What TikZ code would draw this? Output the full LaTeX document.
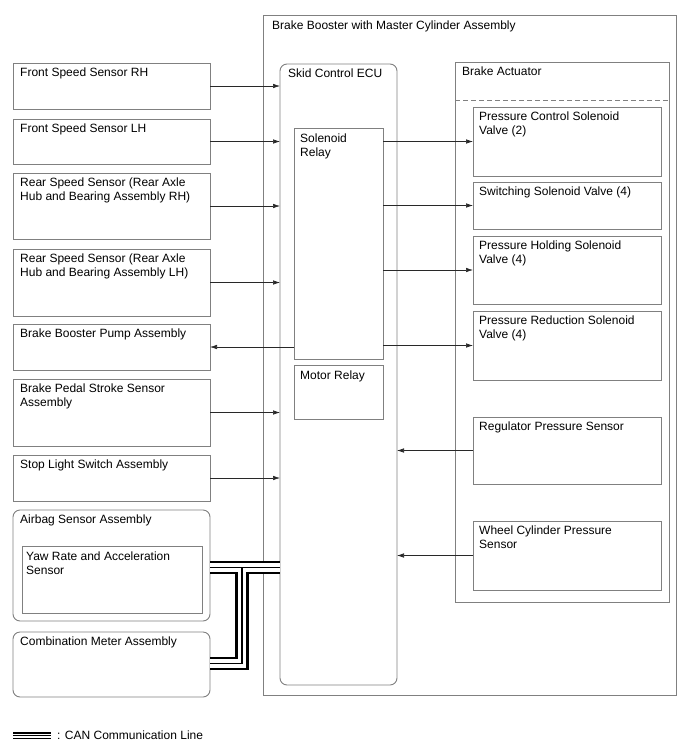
\documentclass[tikz,border=0pt]{standalone}
\usepackage{fontspec}
\setmainfont{Liberation Sans}
\usetikzlibrary{arrows.meta}
\definecolor{lc}{RGB}{128,128,128}
\definecolor{ac}{RGB}{40,40,40}
\begin{document}
\begin{tikzpicture}[x=1pt,y=-1pt,
  box/.style={draw=lc, line width=0.9pt, anchor=north west, inner sep=0pt, outer sep=0pt},
  rbox/.style={box, rounded corners=7pt},
  txt/.style={anchor=north west, inner sep=0pt, align=left, text=black, font=\fontsize{12}{14}\selectfont},
  arr/.style={draw=ac, line width=0.6pt, -{Latex[length=7pt,width=4.5pt]}},
  canA/.style={draw=black, line width=13.5pt},
  canB/.style={draw=white, line width=8.5pt},
  canC/.style={draw=black, line width=1.2pt},
  legA/.style={draw=black, line width=7.4pt},
  legB/.style={draw=white, line width=4pt},
  legC/.style={draw=black, line width=1pt}
]
\useasboundingbox[fill=white] (0,0) rectangle (688,755);

% outer assembly
\node[box, minimum width=413pt, minimum height=680pt] (outer) at (263,15) {};
\node[txt] (outer-t) at ([shift={(9,6)}]outer.north west) {Brake Booster with Master Cylinder Assembly};

% ECU
\node[rbox, minimum width=117pt, minimum height=621pt] (ecu) at (280,64) {};
\node[txt] (ecu-t) at ([shift={(8,5)}]ecu.north west) {Skid Control ECU};
\node[box, minimum width=89pt, minimum height=231pt] (sol) at (294,128) {};
\node[txt] (sol-t) at ([shift={(6,6)}]sol.north west) {Solenoid\\Relay};
\node[box, minimum width=89pt, minimum height=54pt] (mot) at (294,365) {};
\node[txt] (mot-t) at ([shift={(6,6)}]mot.north west) {Motor Relay};

% actuator
\node[box, minimum width=214pt, minimum height=540pt] (act) at (455,62) {};
\node[txt] (act-t) at ([shift={(7,5)}]act.north west) {Brake Actuator};
\coordinate (dashy) at (0,100);
\draw[lc, line width=0.9pt, dash pattern=on 5pt off 3pt] (act.west |- dashy) -- (act.east |- dashy);

% left boxes
\node[box, minimum width=197pt, minimum height=46pt] (frh) at (13,63) {};
\node[txt] (frh-t) at ([shift={(7,5)}]frh.north west) {Front Speed Sensor RH};
\node[box, minimum width=197pt, minimum height=45pt] (flh) at (13,119) {};
\node[txt] (flh-t) at ([shift={(7,5)}]flh.north west) {Front Speed Sensor LH};
\node[box, minimum width=197pt, minimum height=66pt] (rrh) at (13,173) {};
\node[txt] (rrh-t) at ([shift={(7,5)}]rrh.north west) {Rear Speed Sensor (Rear Axle\\Hub and Bearing Assembly RH)};
\node[box, minimum width=197pt, minimum height=67pt] (rlh) at (13,249) {};
\node[txt] (rlh-t) at ([shift={(7,5)}]rlh.north west) {Rear Speed Sensor (Rear Axle\\Hub and Bearing Assembly LH)};
\node[box, minimum width=197pt, minimum height=46pt] (pump) at (13,324) {};
\node[txt] (pump-t) at ([shift={(7,5)}]pump.north west) {Brake Booster Pump Assembly};
\node[box, minimum width=197pt, minimum height=67pt] (pedal) at (13,379) {};
\node[txt] (pedal-t) at ([shift={(7,5)}]pedal.north west) {Brake Pedal Stroke Sensor\\Assembly};
\node[box, minimum width=197pt, minimum height=46pt] (stop) at (13,455) {};
\node[txt] (stop-t) at ([shift={(7,5)}]stop.north west) {Stop Light Switch Assembly};
\node[rbox, minimum width=197pt, minimum height=111pt] (airbag) at (13,510) {};
\node[txt] (airbag-t) at ([shift={(7,5)}]airbag.north west) {Airbag Sensor Assembly};
\node[box, minimum width=180pt, minimum height=67pt] (yaw) at (22,546) {};
\node[txt] (yaw-t) at ([shift={(4,6)}]yaw.north west) {Yaw Rate and Acceleration\\Sensor};
\node[rbox, minimum width=197pt, minimum height=65pt] (combo) at (13,632) {};
\node[txt] (combo-t) at ([shift={(7,5)}]combo.north west) {Combination Meter Assembly};

% right boxes
\node[box, minimum width=188pt, minimum height=69pt] (pcs) at (473,107) {};
\node[txt] (pcs-t) at ([shift={(6,5)}]pcs.north west) {Pressure Control Solenoid\\Valve (2)};
\node[box, minimum width=188pt, minimum height=47pt] (sw) at (473,182) {};
\node[txt] (sw-t) at ([shift={(6,5)}]sw.north west) {Switching Solenoid Valve (4)};
\node[box, minimum width=188pt, minimum height=68pt] (ph) at (473,236) {};
\node[txt] (ph-t) at ([shift={(6,5)}]ph.north west) {Pressure Holding Solenoid\\Valve (4)};
\node[box, minimum width=188pt, minimum height=69pt] (pr) at (473,311) {};
\node[txt] (pr-t) at ([shift={(6,5)}]pr.north west) {Pressure Reduction Solenoid\\Valve (4)};
\node[box, minimum width=188pt, minimum height=67pt] (reg) at (473,417) {};
\node[txt] (reg-t) at ([shift={(6,5)}]reg.north west) {Regulator Pressure Sensor};
\node[box, minimum width=188pt, minimum height=69pt] (wc) at (473,521) {};
\node[txt] (wc-t) at ([shift={(6,5)}]wc.north west) {Wheel Cylinder Pressure\\Sensor};

% arrows
\draw[arr] (frh.east) -- (frh.east -| ecu.west);
\draw[arr] (flh.east) -- (flh.east -| ecu.west);
\draw[arr] (rrh.east) -- (rrh.east -| ecu.west);
\draw[arr] (rlh.east) -- (rlh.east -| ecu.west);
\draw[arr] (pedal.east) -- (pedal.east -| ecu.west);
\draw[arr] (stop.east) -- (stop.east -| ecu.west);
\draw[arr] (pump.east -| sol.west) -- (pump.east);
\draw[arr] (pcs.west -| sol.east) -- (pcs.west);
\draw[arr] (sw.west -| sol.east) -- (sw.west);
\draw[arr] (ph.west -| sol.east) -- (ph.west);
\draw[arr] (pr.west -| sol.east) -- (pr.west);
\draw[arr] (reg.west) -- (reg.west -| ecu.east);
\draw[arr] (wc.west) -- (wc.west -| ecu.east);

% CAN lines
\coordinate (cany) at (0,567.5);
\coordinate (canj) at (242,567.5);
\coordinate (canb) at (242,663.5);
\draw[canA] (airbag.east |- cany) -- (ecu.west |- cany);
\draw[canA] (canj) -- (canb) -- (combo.east |- canb);
\draw[canB] (airbag.east |- cany) -- (ecu.west |- cany);
\draw[canB] (canj) -- (canb) -- (combo.east |- canb);
\draw[canC] (airbag.east |- cany) -- (ecu.west |- cany);
\draw[canC] (canj) -- (canb) -- (combo.east |- canb);

% legend
\coordinate (lg1) at (13,735.5);
\coordinate (lg2) at (51,735.5);
\draw[legA] (lg1) -- (lg2);
\draw[legB] (lg1) -- (lg2);
\draw[legC] (lg1) -- (lg2);
\node[txt, anchor=west] (leg-t) at (57,735.5) {: CAN Communication Line};
\end{tikzpicture}
\end{document}
